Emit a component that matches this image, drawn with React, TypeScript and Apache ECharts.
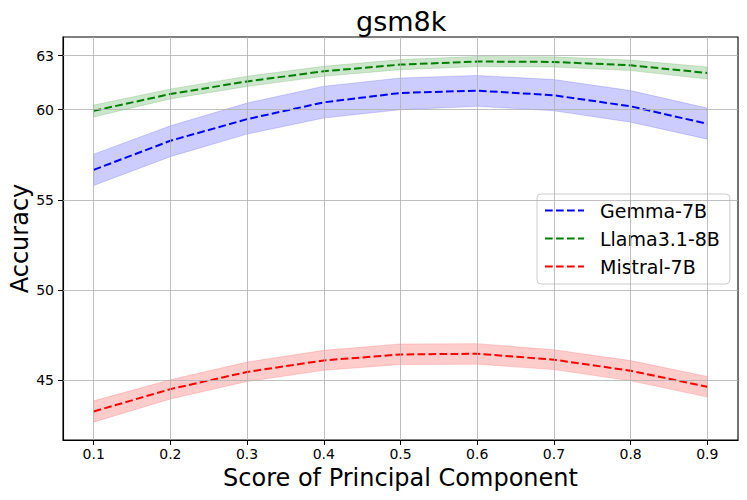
import React, { useEffect, useRef } from "react";
import * as echarts from "echarts";

const xValues = [0.1, 0.2, 0.3, 0.4, 0.5, 0.6, 0.7, 0.8, 0.9];
const xTicks = [0.1, 0.2, 0.3, 0.4, 0.5, 0.6, 0.7, 0.8, 0.9];
const yTicks = [45, 50, 55, 60, 63];

const gemmaMean = [56.67, 58.28, 59.48, 60.41, 60.93, 61.06, 60.8, 60.19, 59.22];
const gemmaUpper = [57.54, 59.11, 60.37, 61.3, 61.76, 61.9, 61.67, 61.06, 60.09];
const gemmaLower = [55.8, 57.4, 58.65, 59.54, 60.0, 60.19, 59.94, 59.31, 58.37];

const llamaMean = [59.94, 60.87, 61.57, 62.13, 62.5, 62.67, 62.65, 62.46, 62.04];
const llamaUpper = [60.26, 61.15, 61.86, 62.41, 62.78, 62.95, 62.93, 62.75, 62.37];
const llamaLower = [59.6, 60.6, 61.29, 61.85, 62.22, 62.39, 62.37, 62.17, 61.7];

const mistralMean = [43.28, 44.52, 45.47, 46.11, 46.44, 46.48, 46.15, 45.54, 44.65];
const mistralUpper = [43.87, 45.04, 46.02, 46.67, 47.02, 47.04, 46.7, 46.1, 45.22];
const mistralLower = [42.69, 43.97, 44.94, 45.56, 45.88, 45.9, 45.6, 44.98, 44.08];

const FONT = "DejaVu Sans";

const models = [
  { name: "Gemma-7B", mean: gemmaMean, upper: gemmaUpper, lower: gemmaLower, color: "#0000ff", band: "rgba(0,0,255,0.2)" },
  { name: "Llama3.1-8B", mean: llamaMean, upper: llamaUpper, lower: llamaLower, color: "#008000", band: "rgba(0,128,0,0.2)" },
  { name: "Mistral-7B", mean: mistralMean, upper: mistralUpper, lower: mistralLower, color: "#ff0000", band: "rgba(255,0,0,0.2)" },
];

export default function App() {
  const ref = useRef<HTMLDivElement>(null);
  useEffect(() => {
    if (!ref.current) return;
    const chart = echarts.init(ref.current, null, { renderer: "svg" });
    const series: any[] = [];

    // grid lines
    series.push({
      name: "grid",
      type: "line",
      data: [],
      silent: true,
      z: 0,
      markLine: {
        silent: true,
        symbol: "none",
        animation: false,
        label: { show: false },
        lineStyle: { color: "#b0b0b0", width: 0.8, type: "solid" },
        data: [
          ...xTicks.map((v) => ({ xAxis: v })),
          ...yTicks.map((v) => ({ yAxis: v })),
        ],
      },
    });

    models.forEach((m) => {
      series.push({
        name: m.name + " band",
        type: "custom",
        silent: true,
        clip: true,
        z: 1,
        data: xValues.map((x, i) => [x, m.lower[i], m.upper[i]]),
        encode: { x: 0, y: [1, 2] },
        renderItem: (params: any, api: any) => {
          if (params.dataIndex !== 0) return null;
          const top = xValues.map((x, i) => api.coord([x, m.upper[i]]));
          const bottom = xValues.map((x, i) => api.coord([x, m.lower[i]])).reverse();
          return {
            type: "polygon",
            shape: { points: top.concat(bottom) },
            style: { fill: m.band, stroke: m.band, lineWidth: 0.8 },
          };
        },
      });
    });
    models.forEach((m) => {
      series.push({
        name: m.name,
        type: "line",
        data: xValues.map((x, i) => [x, m.mean[i]]),
        symbol: "none",
        z: 3,
        lineStyle: { color: m.color, width: 2, type: [7.7, 3.3] },
        itemStyle: { color: m.color },
      });
    });

    chart.setOption({
      animation: false,
      backgroundColor: "#ffffff",
      title: {
        text: "gsm8k",
        left: 356,
        top: 8,
        padding: 0,
        textStyle: { fontFamily: FONT, fontSize: 27, fontWeight: "normal", color: "#000" },
      },
      grid: {
        left: 63,
        right: 9,
        top: 37,
        bottom: 60,
        containLabel: false,
        outerBoundsMode: "none",
        show: true,
        borderColor: "#000",
        borderWidth: 1.1,
        backgroundColor: "transparent",
      },
      legend: {
        data: models.map((m) => m.name),
        orient: "vertical",
        left: 537,
        top: 194,
        itemWidth: 39,
        itemHeight: 14,
        itemGap: 9,
        padding: [7, 10, 8, 7],
        backgroundColor: "rgba(255,255,255,0.8)",
        borderColor: "#cccccc",
        borderWidth: 1,
        borderRadius: 4,
        itemStyle: { opacity: 0 },
        textStyle: { fontFamily: FONT, fontSize: 19, color: "#000", padding: [0, 0, 0, 11] },
      },
      xAxis: {
        type: "value",
        min: 0.06,
        max: 0.94,
        name: "Score of Principal Component",
        nameLocation: "middle",
        nameGap: 26,
        nameTextStyle: { fontFamily: FONT, fontSize: 24, color: "#000" },
        axisLine: { show: true, lineStyle: { color: "#000", width: 1.1 } },
        axisTick: { show: true, length: 5, lineStyle: { color: "#000", width: 1 }, customValues: xTicks },
        axisLabel: {
          customValues: xTicks,
          margin: 7,
          fontFamily: FONT,
          fontSize: 14,
          color: "#000",
          formatter: (v: number) => v.toFixed(1),
        },
        splitLine: { show: false },
      },
      yAxis: {
        type: "value",
        min: 41.7,
        max: 64.03,
        name: "Accuracy",
        nameLocation: "middle",
        nameRotate: 90,
        nameGap: 31,
        nameMoveOverlap: false,
        nameTextStyle: { fontFamily: FONT, fontSize: 24, color: "#000" },
        axisLine: { show: true, lineStyle: { color: "#000", width: 1.1 } },
        axisTick: { show: true, length: 5, lineStyle: { color: "#000", width: 1 }, customValues: yTicks },
        axisLabel: {
          customValues: yTicks,
          margin: 9,
          fontFamily: FONT,
          fontSize: 14,
          color: "#000",
        },
        splitLine: { show: false },
      },
      series,
    });
    return () => chart.dispose();
  }, []);
  return (
    <div
      ref={ref}
      style={{ position: "fixed", left: 0, top: 0, width: 747, height: 500, background: "#fff" }}
    />
  );
}
